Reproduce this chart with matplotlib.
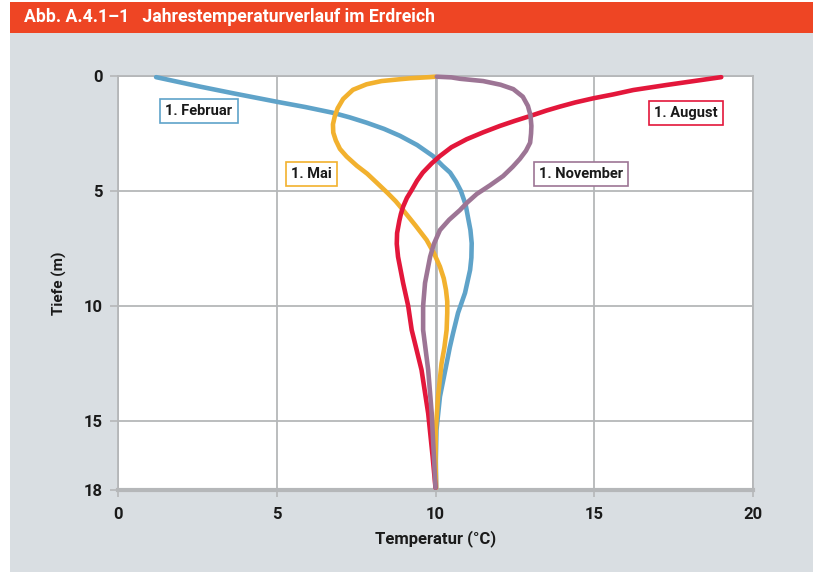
import matplotlib
matplotlib.use("Agg")
import matplotlib.pyplot as plt
from matplotlib.patches import Rectangle
from matplotlib import font_manager as fm

# ---- data ----
feb_depth = [0.05, 0.46, 0.75, 1.12, 1.35, 1.6, 1.8, 2.03, 2.3, 2.6, 3.0, 3.48, 3.9, 4.2, 4.6, 5.0, 5.6, 6.12, 6.7, 7.27, 7.9, 8.43, 9.43, 10.3, 11.2, 11.8, 12.5, 13.94, 15.4, 16.7, 17.9]
feb_temp = [1.2, 2.58, 3.62, 5.0, 5.9, 6.77, 7.3, 7.83, 8.38, 8.88, 9.42, 9.92, 10.22, 10.46, 10.65, 10.8, 10.95, 11.02, 11.1, 11.14, 11.13, 11.09, 10.93, 10.71, 10.55, 10.45, 10.35, 10.14, 10.03, 10.01, 10.02]

mai_depth = [0.03, 0.05, 0.1, 0.14, 0.22, 0.36, 0.6, 1.0, 1.4, 1.74, 2.1, 2.46, 2.8, 3.17, 3.5, 3.9, 4.25, 4.64, 5.1, 5.45, 5.83, 6.5, 7.13, 7.7, 8.29, 8.8, 9.3, 9.8, 10.3, 11.04, 11.8, 12.5, 13.94, 15.4, 16.7, 17.9]
mai_temp = [10.0, 9.8, 9.2, 8.88, 8.3, 7.83, 7.4, 7.09, 6.92, 6.83, 6.77, 6.78, 6.86, 6.99, 7.2, 7.52, 7.85, 8.15, 8.5, 8.75, 8.98, 9.37, 9.72, 9.95, 10.14, 10.26, 10.33, 10.37, 10.37, 10.35, 10.28, 10.19, 10.08, 10.01, 10.0, 10.02]

aug_depth = [0.05, 0.2, 0.39, 0.61, 0.8, 0.97, 1.15, 1.33, 1.5, 1.74, 1.95, 2.17, 2.45, 2.75, 3.1, 3.48, 3.8, 4.2, 4.55, 4.96, 5.3, 5.68, 6.0, 6.3, 6.83, 7.3, 7.86, 9.0, 10.0, 11.04, 12.78, 14.67, 16.55, 17.9]
aug_temp = [19.0, 18.24, 17.28, 16.23, 15.6, 14.97, 14.4, 13.92, 13.5, 12.98, 12.5, 12.03, 11.5, 10.98, 10.5, 10.14, 9.88, 9.6, 9.42, 9.25, 9.1, 8.98, 8.91, 8.86, 8.79, 8.78, 8.82, 8.98, 9.14, 9.25, 9.56, 9.77, 9.91, 10.0]

nov_depth = [0.03, 0.06, 0.12, 0.22, 0.38, 0.57, 0.9, 1.3, 1.7, 2.17, 2.5, 2.9, 3.25, 3.6, 3.95, 4.35, 4.75, 5.13, 5.5, 5.83, 6.25, 6.7, 7.3, 7.86, 9.0, 10.0, 11.04, 12.78, 14.65, 16.55, 17.9]
nov_temp = [10.04, 10.5, 10.77, 11.5, 12.05, 12.45, 12.75, 12.91, 12.99, 13.02, 13.01, 12.98, 12.85, 12.66, 12.43, 12.13, 11.72, 11.3, 11.0, 10.77, 10.43, 10.14, 9.95, 9.83, 9.67, 9.61, 9.61, 9.77, 9.88, 9.95, 10.0]

series_names = ["1. Februar", "1. Mai", "1. August", "1. November"]
label_pos = [(2.55, 1.52), (6.08, 4.26), (17.89, 1.6), (14.58, 4.26)]

x_ticks = [0, 5, 10, 15, 20]
y_ticks = [0, 5, 10, 15, 18]

title = "Abb. A.4.1\u20131   Jahrestemperaturverlauf im Erdreich"
xlabel = "Temperatur (°C)"
ylabel = "Tiefe (m)"

# ---- style ----
colors = ["#5fa3c9", "#f2b12e", "#e3173b", "#9d7595"]
bg = "#d9dee2"
header = "#ee4524"
gridc = "#b5b7b9"

avail = {f.name for f in fm.fontManager.ttflist}
narrow = "Liberation Sans Narrow" if "Liberation Sans Narrow" in avail else "Roboto"
plt.rcParams['font.family'] = ["Roboto", "DejaVu Sans"]

W, H = 819, 572
fig = plt.figure(figsize=(W / 100, H / 100), dpi=100)
fig.patch.set_facecolor("white")
fig.patches.append(Rectangle((10 / W, 0), 803 / W, 1 - 33 / H, transform=fig.transFigure,
                             facecolor=bg, edgecolor="none", zorder=-10))
fig.patches.append(Rectangle((10 / W, 1 - 33 / H), 803 / W, 31 / H, transform=fig.transFigure,
                             facecolor=header, edgecolor="none", zorder=-10))
fig.text(24 / W, 1 - 17.5 / H, title, color="white", fontsize=12.7, fontweight="bold",
         va="center", ha="left", family=["Roboto", "DejaVu Sans"])

ax = fig.add_axes([118 / W, 1 - 490 / H, (753 - 118) / W, (490 - 76) / H])
ax.set_facecolor("white")
ax.set_xlim(0, 20)
ax.set_ylim(18, 0)
ax.set_xticks(x_ticks)
ax.set_yticks(y_ticks)
ax.grid(True, color=gridc, lw=1.3, zorder=0)
ax.set_axisbelow(True)
for s in ["left", "top", "right"]:
    ax.spines[s].set_color(gridc)
    ax.spines[s].set_linewidth(1.3)
ax.spines["bottom"].set_color(gridc)
ax.spines["bottom"].set_linewidth(3)
ax.axvline(10, color="#a9abad", lw=1.8, zorder=0.5)

ax.tick_params(axis="y", length=6, width=1.2, color=gridc, pad=5)
ax.tick_params(axis="x", length=5, width=1.2, color=gridc, pad=7)
for lab in ax.get_xticklabels() + ax.get_yticklabels():
    lab.set_fontfamily([narrow, "DejaVu Sans"])
    lab.set_fontweight("bold")
    lab.set_fontsize(12)
    lab.set_color("#1a1a1a")

ax.set_xlabel(xlabel, fontsize=12, fontweight="bold", family=[narrow, "DejaVu Sans"],
              color="#1a1a1a", labelpad=6)
ax.set_ylabel(ylabel, fontsize=11, fontweight="bold", family=["Roboto", "DejaVu Sans"],
              color="#1a1a1a", labelpad=12)

data = [(feb_temp, feb_depth), (mai_temp, mai_depth), (aug_temp, aug_depth), (nov_temp, nov_depth)]
order = [0, 1, 3, 2]
for i in order:
    t, d = data[i]
    ax.plot(t, d, color=colors[i], lw=3.3, solid_capstyle="round", solid_joinstyle="round",
            zorder=3 + i * 0.1, clip_on=False)

for i, name in enumerate(series_names):
    x, y = label_pos[i]
    ax.text(x, y, name, fontsize=10.5, fontweight="bold", color="#1a1a1a", ha="center", va="center",
            zorder=5, bbox=dict(boxstyle="square,pad=0.35", facecolor="white", edgecolor=colors[i], lw=1.2))

fig.savefig("out.png", dpi=100, facecolor=fig.get_facecolor())
